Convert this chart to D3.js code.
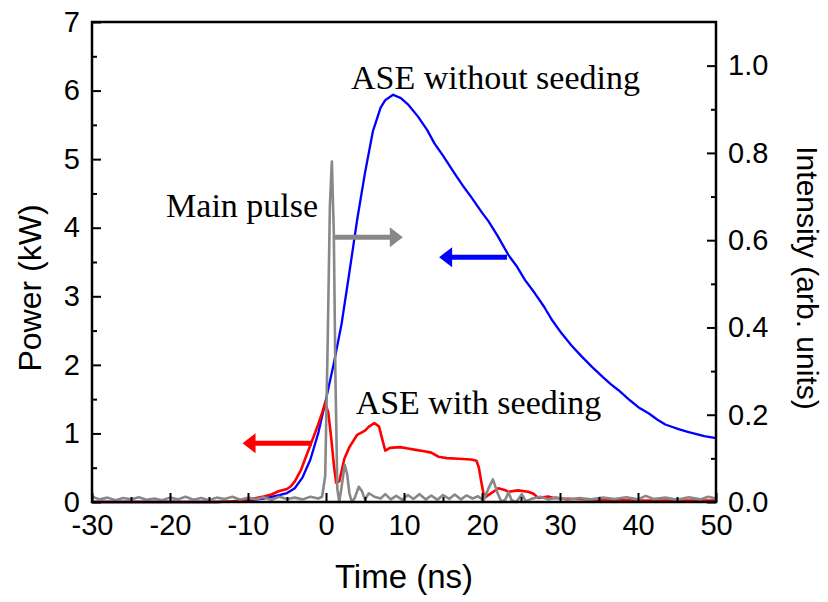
<!DOCTYPE html>
<html>
<head>
<meta charset="utf-8">
<script src="https://cdn.jsdelivr.net/npm/d3@7"></script>
<style>
  body { margin: 0; background: #fff; }
  svg text { font-family: Arial, "Liberation Sans", sans-serif; fill: #000; }
  svg text.note { font-family: "Times New Roman", "Liberation Serif", serif; }
</style>
</head>
<body>
<script>
// ASE without seeding, power in kW (left axis)
const timeNoSeed = [-30, -20, -14, -12, -10, -8, -6, -5, -4, -3, -2, -1, 0, 1, 2, 3, 4, 5, 6, 7, 7.6, 8.6, 9.6, 10.5, 11.8, 13, 13.9, 15, 16.5, 17.5, 18.6, 20, 20.8, 22, 23.4, 24.5, 25.5, 26.8, 28, 29, 30.2, 31.5, 32.8, 34.1, 35.5, 36.5, 37.5, 39, 40.2, 41.4, 42.5, 43.5, 44.5, 45.3, 46.5, 47.5, 48.5, 50];
const powerNoSeed = [0, 0, 0, 0.005, 0.02, 0.05, 0.1, 0.13, 0.2, 0.36, 0.62, 1.0, 1.5, 2.02, 2.6, 3.35, 4.12, 4.8, 5.4, 5.75, 5.86, 5.94, 5.89, 5.8, 5.62, 5.42, 5.23, 5.05, 4.79, 4.62, 4.45, 4.22, 4.1, 3.88, 3.6, 3.43, 3.24, 3.04, 2.84, 2.65, 2.46, 2.28, 2.12, 1.97, 1.82, 1.72, 1.63, 1.48, 1.37, 1.29, 1.2, 1.13, 1.09, 1.06, 1.02, 0.99, 0.96, 0.93];

// ASE with seeding, power in kW (left axis)
const timeSeed = [-30, -14, -12, -10, -8, -7, -6, -5, -4.5, -4, -3.2, -2.4, -1.6, -1.1, -0.5, -0.1, 0.3, 0.7, 1.0, 1.3, 1.7, 2.35, 3.0, 4.0, 5.0, 5.5, 6.2, 6.8, 7.2, 7.6, 8.2, 9.5, 10.5, 11.5, 12.6, 13.5, 14.4, 15.5, 17, 18.6, 19.3, 19.6, 19.9, 20.3, 20.8, 21.2, 22.1, 23.0, 23.4, 24.6, 25.9, 26.6, 27.2, 27.8, 28.5, 29.2, 30.2, 32.8, 36, 40, 45, 50];
const powerSeed = [0, 0, 0.01, 0.03, 0.08, 0.11, 0.16, 0.19, 0.23, 0.3, 0.47, 0.71, 0.95, 1.1, 1.3, 1.45, 1.3, 0.9, 0.55, 0.28, 0.3, 0.63, 0.8, 0.98, 1.04, 1.1, 1.15, 1.1, 0.92, 0.75, 0.79, 0.8, 0.78, 0.76, 0.74, 0.72, 0.66, 0.64, 0.63, 0.62, 0.6, 0.5, 0.3, 0.06, 0.1, 0.13, 0.2, 0.17, 0.15, 0.17, 0.15, 0.12, 0.06, 0.07, 0.08, 0.06, 0.05, 0.04, 0.03, 0.02, 0.02, 0.02];

// main pulse, intensity in arb. units (right axis)
const timePulse = [-30, -29, -28, -27, -26, -25, -24, -23, -22, -21, -20, -19, -18, -17, -16, -15, -14, -13, -12, -11, -10, -9, -8, -7, -6, -5, -4, -3, -2, -1, -0.5, -0.1, 0.2, 0.5, 0.75, 1.0, 1.2, 1.45, 1.7, 2.0, 2.4, 2.7, 3.0, 3.3, 3.7, 4.2, 4.6, 5.0, 5.5, 6.2, 7, 7.6, 8.3, 9, 9.8, 10.5, 11.2, 12, 12.8, 13.5, 14.3, 15, 15.8, 16.5, 17.3, 18, 18.8, 19.5, 20.2, 20.8, 21.4, 22, 22.5, 23, 23.4, 23.8, 24.4, 25.1, 25.6, 26.5, 27.5, 28.5, 29.5, 31, 32.5, 34, 35.5, 37, 38.5, 40, 41, 42, 43.5, 45, 46.5, 48, 49, 50];
const intensityPulse = [0.012, 0.006, 0.01, 0.004, 0.009, 0.006, 0.011, 0.005, 0.008, 0.004, 0.01, 0.006, 0.012, 0.005, 0.009, 0.004, 0.01, 0.007, 0.012, 0.005, 0.01, 0.006, 0.011, 0.005, 0.012, 0.007, 0.01, 0.006, 0.012, 0.008, 0.012, 0.06, 0.35, 0.68, 0.78, 0.62, 0.3, 0.03, 0.0, 0.035, 0.085, 0.065, 0.02, 0.0, 0.01, 0.035, 0.025, 0.006, 0.02, 0.012, 0.008, 0.018, 0.006, 0.014, 0.005, 0.016, 0.007, 0.018, 0.006, 0.015, 0.005, 0.016, 0.007, 0.017, 0.006, 0.015, 0.008, 0.013, 0.004, 0.03, 0.052, 0.02, 0.0, 0.006, 0.022, 0.004, 0.0, 0.018, 0.002, 0.008, 0.012, 0.006, 0.01, 0.005, 0.009, 0.006, 0.01, 0.007, 0.011, 0.006, 0.014, 0.007, 0.01, 0.005, 0.011, 0.006, 0.012, 0.008];

const xTicks = [-30, -20, -10, 0, 10, 20, 30, 40, 50];
const xMinorTicks = [-25, -15, -5, 5, 15, 25, 35, 45];
const yLeftTicks = [0, 1, 2, 3, 4, 5, 6, 7];
const yLeftMinorTicks = [0.5, 1.5, 2.5, 3.5, 4.5, 5.5, 6.5];
const yRightTicks = [0, 0.2, 0.4, 0.6, 0.8, 1.0];
const yRightMinorTicks = [0.1, 0.3, 0.5, 0.7, 0.9];

// annotations: text labels and arrows (x in ns, y in kW)
const labels = ["ASE without seeding", "Main pulse", "ASE with seeding"];
const labelX = [3.2, -20.5, 3.8];
const labelY = [6.03, 4.16, 1.29];
// arrows: tail x, tip x, y (kW)
const arrowNames = ["pulse", "noSeed", "seed"];
const arrowFrom = [0.95, 23.2, -1.8];
const arrowTo = [9.85, 14.5, -10.7];
const arrowY = [3.86, 3.57, 0.856];
const arrowColor = ["#888888", "#0000ff", "#ff0000"];

const WIDTH = 828, HEIGHT = 602;
const margin = {left: 92, right: 112, top: 22, bottom: 100};

const svg = d3.select("body").append("svg")
  .attr("width", WIDTH).attr("height", HEIGHT);

const x = d3.scaleLinear().domain([-30, 50]).range([margin.left, WIDTH - margin.right]);
const yL = d3.scaleLinear().domain([0, 7]).range([HEIGHT - margin.bottom, margin.top]);
const yR = d3.scaleLinear().domain([0, 1.1]).range([HEIGHT - margin.bottom, margin.top]);

const plotBottom = HEIGHT - margin.bottom;
const plotRight = WIDTH - margin.right;

// curves
const lineL = d3.line().x(d => x(d[0])).y(d => yL(d[1]));
const lineR = d3.line().x(d => x(d[0])).y(d => yR(d[1]));

svg.append("path")
  .attr("d", lineL(d3.zip(timeNoSeed, powerNoSeed)))
  .attr("fill", "none").attr("stroke", "#0000ff").attr("stroke-width", 2.3)
  .attr("stroke-linejoin", "round");

svg.append("path")
  .attr("d", lineL(d3.zip(timeSeed, powerSeed)))
  .attr("fill", "none").attr("stroke", "#ff0000").attr("stroke-width", 2.6)
  .attr("stroke-linejoin", "round");

svg.append("path")
  .attr("d", lineR(d3.zip(timePulse, intensityPulse)))
  .attr("fill", "none").attr("stroke", "#888888").attr("stroke-width", 2.6)
  .attr("stroke-linejoin", "round");

// arrows
arrowNames.forEach((n, i) => {
  const x0 = x(arrowFrom[i]), x1 = x(arrowTo[i]), yy = yL(arrowY[i]);
  const dir = x1 > x0 ? 1 : -1;
  const headLen = 13, headHalf = 10;
  svg.append("line")
    .attr("x1", x0).attr("x2", x1 - dir * headLen + dir)
    .attr("y1", yy).attr("y2", yy)
    .attr("stroke", arrowColor[i]).attr("stroke-width", 5);
  svg.append("path")
    .attr("d", `M${x1},${yy}L${x1 - dir * headLen},${yy - headHalf}L${x1 - dir * headLen},${yy + headHalf}Z`)
    .attr("fill", arrowColor[i]);
});

// text labels
svg.selectAll("text.note")
  .data(labels)
  .enter()
  .append("text")
  .attr("class", "note")
  .attr("x", (d, i) => x(labelX[i]))
  .attr("y", (d, i) => yL(labelY[i]))
  .attr("font-size", 34)
  .text(d => d);

// axes
function styleAxis(g) {
  g.select(".domain").remove();
  g.selectAll(".tick line").attr("stroke", "#000").attr("stroke-width", 2);
  g.selectAll(".tick text").attr("font-size", 29).attr("fill", "#000");
}

svg.append("g").attr("transform", `translate(0,${plotBottom})`)
  .call(d3.axisBottom(x).tickValues(xTicks).tickSize(-9).tickPadding(12).tickFormat(d => String(d)))
  .call(styleAxis);
svg.append("g").attr("transform", `translate(0,${plotBottom})`)
  .call(d3.axisBottom(x).tickValues(xMinorTicks).tickSize(-5).tickFormat(""))
  .call(styleAxis);

svg.append("g").attr("transform", `translate(${margin.left},0)`)
  .call(d3.axisLeft(yL).tickValues(yLeftTicks).tickSize(-9).tickPadding(12).tickFormat(d => String(d)))
  .call(styleAxis);
svg.append("g").attr("transform", `translate(${margin.left},0)`)
  .call(d3.axisLeft(yL).tickValues(yLeftMinorTicks).tickSize(-5).tickFormat(""))
  .call(styleAxis);

svg.append("g").attr("transform", `translate(${plotRight},0)`)
  .call(d3.axisRight(yR).tickValues(yRightTicks).tickSize(-9).tickPadding(12).tickFormat(d3.format(".1f")))
  .call(styleAxis);
svg.append("g").attr("transform", `translate(${plotRight},0)`)
  .call(d3.axisRight(yR).tickValues(yRightMinorTicks).tickSize(-5).tickFormat(""))
  .call(styleAxis);

// frame
svg.append("rect")
  .attr("x", margin.left).attr("y", margin.top)
  .attr("width", plotRight - margin.left).attr("height", plotBottom - margin.top)
  .attr("fill", "none").attr("stroke", "#000").attr("stroke-width", 2.5);

// axis titles
svg.append("text")
  .attr("x", (margin.left + plotRight) / 2).attr("y", 588)
  .attr("text-anchor", "middle").attr("font-size", 33)
  .text("Time (ns)");

svg.append("text")
  .attr("transform", "translate(41,288) rotate(-90)")
  .attr("text-anchor", "middle").attr("font-size", 32)
  .text("Power (kW)");

svg.append("text")
  .attr("transform", "translate(797,278) rotate(90)")
  .attr("text-anchor", "middle").attr("font-size", 30)
  .text("Intensity (arb. units)");
</script>
</body>
</html>
